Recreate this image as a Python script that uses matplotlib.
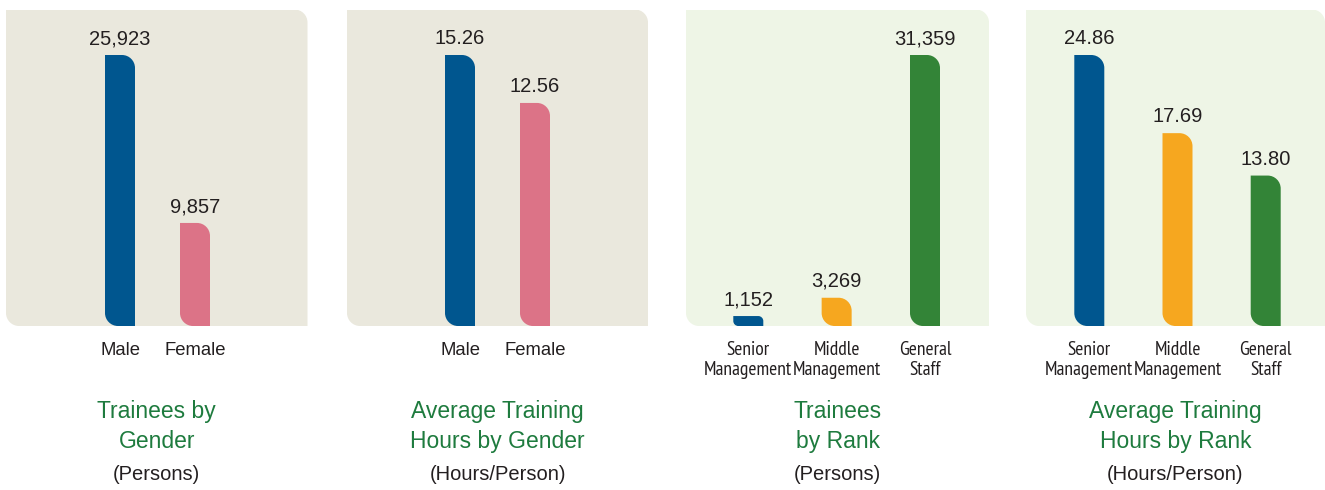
import numpy as np
import matplotlib
matplotlib.use("Agg")
import matplotlib.pyplot as plt
from matplotlib.path import Path
from matplotlib.patches import PathPatch

plt.rcParams['font.family'] = ['Liberation Sans', 'DejaVu Sans']
NARROW = ['PT Sans Narrow', 'Archivo Narrow', 'Liberation Sans']

# data
gender_labels = ["Male", "Female"]
trainees_by_gender = [25923, 9857]
hours_by_gender = [15.26, 12.56]

rank_labels = ["Senior\nManagement", "Middle\nManagement", "General\nStaff"]
trainees_by_rank = [1152, 3269, 31359]
hours_by_rank = [24.86, 17.69, 13.80]

count_fmt = "{:,.0f}"
hours_fmt = "{:.2f}"

titles = ["Trainees by\nGender", "Average Training\nHours by Gender",
          "Trainees\nby Rank", "Average Training\nHours by Rank"]
units = ["(Persons)", "(Hours/Person)", "(Persons)", "(Hours/Person)"]

BEIGE = "#EAE8DD"
MINT = "#EEF5E6"
BLUE = "#00568F"
PINK = "#DC7387"
ORANGE = "#F6A71F"
GREEN = "#338437"
TITLE_GREEN = "#1E7B3E"
TEXT = "#231F20"

W, H = 1325, 490
fig = plt.figure(figsize=(W / 100, H / 100), dpi=100)

K = 0.5523  # bezier circle constant


def leaf(x0, y0, x1, y1, rx, ry):
    """Rectangle with rounded top-right and bottom-left corners."""
    verts = [
        (x0, y1),
        (x1 - rx, y1),
        (x1 - rx + K * rx, y1), (x1, y1 - ry + K * ry), (x1, y1 - ry),
        (x1, y0),
        (x0 + rx, y0),
        (x0 + rx - K * rx, y0), (x0, y0 + ry - K * ry), (x0, y0 + ry),
        (x0, y1),
    ]
    codes = [Path.MOVETO, Path.LINETO,
             Path.CURVE4, Path.CURVE4, Path.CURVE4,
             Path.LINETO, Path.LINETO,
             Path.CURVE4, Path.CURVE4, Path.CURVE4,
             Path.CLOSEPOLY]
    return Path(verts, codes)


def panel(box, centers, labels, values, colors, fmt, bg, title, unit, narrow):
    bx0, bx1 = box
    top_px, base_px, peak_px = 9.5, 326, 55
    ax = fig.add_axes([bx0 / W, (H - base_px) / H, (bx1 - bx0) / W, (base_px - top_px) / H])
    n = len(values)
    spacing = (centers[-1] - centers[0]) / (n - 1)
    ax.set_xlim(-(centers[0] - bx0) / spacing, (bx1 - centers[0]) / spacing)
    vmax = max(values)
    ax.set_ylim(0, vmax * (base_px - top_px) / (base_px - peak_px))
    for s in ax.spines.values():
        s.set_visible(False)

    # background card, drawn in axes units scaled to pixels
    aw, ah = bx1 - bx0, base_px - top_px
    ax.add_patch(PathPatch(leaf(0, 0, 1, 1, 13 / aw, 13 / ah), transform=ax.transAxes,
                           facecolor=bg, edgecolor="none", zorder=0))

    px_x = spacing
    px_y = (base_px - peak_px) / vmax
    bw = 30 / spacing
    for i, (v, c) in enumerate(zip(values, colors)):
        r = min(13, v * px_y / 2)
        ax.add_patch(PathPatch(leaf(i - bw / 2, 0, i + bw / 2, v, r / px_x, r / px_y),
                               facecolor=c, edgecolor="none", zorder=2))
        ax.annotate(fmt.format(v), (i, v), xytext=(0, 5), textcoords="offset points",
                    ha="center", va="bottom", fontsize=14.5, color=TEXT)

    ax.set_xticks(range(n))
    if narrow:
        ax.set_xticklabels(labels, fontsize=14, color=TEXT, linespacing=1.15, family=NARROW)
        ax.tick_params(axis="x", length=0, pad=10.5)
    else:
        ax.set_xticklabels(labels, fontsize=13.3, color=TEXT)
        ax.tick_params(axis="x", length=0, pad=11.5)
    ax.set_yticks([])

    cx = (bx0 + bx1) / 2 / W
    fig.text(cx, 1 - 426.5 / H, title, ha="center", va="center", fontsize=16.5,
             color=TITLE_GREEN, linespacing=1.42)
    fig.text(cx, 1 - 474 / H, unit, ha="center", va="center", fontsize=14.5, color=TEXT)


panel((6, 307.5), [120, 195], gender_labels, trainees_by_gender, [BLUE, PINK],
      count_fmt, BEIGE, titles[0], units[0], False)
panel((347, 648), [460, 535], gender_labels, hours_by_gender, [BLUE, PINK],
      hours_fmt, BEIGE, titles[1], units[1], False)
panel((686, 989), [748.3, 836.7, 925], rank_labels, trainees_by_rank, [BLUE, ORANGE, GREEN],
      count_fmt, MINT, titles[2], units[2], True)
panel((1026, 1325), [1089.3, 1177.7, 1265.7], rank_labels, hours_by_rank, [BLUE, ORANGE, GREEN],
      hours_fmt, MINT, titles[3], units[3], True)

fig.savefig("out.png", dpi=100, facecolor="white")
